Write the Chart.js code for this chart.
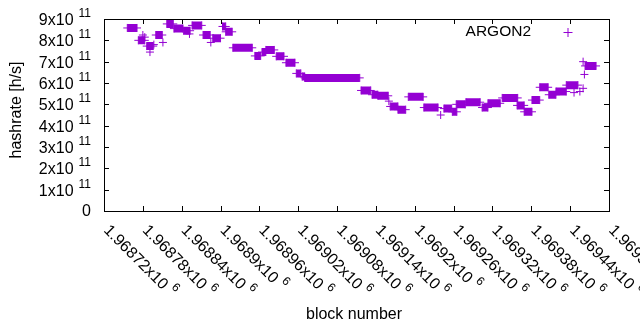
<!DOCTYPE html>
<html>
<head>
<meta charset="utf-8">
<script src="https://cdn.jsdelivr.net/npm/chart.js@4.4.0/dist/chart.umd.min.js"></script>
<style>
  html, body { margin: 0; padding: 0; background: #fff; }
  #wrap { width: 640px; height: 330px; position: relative; }
</style>
</head>
<body>
<div id="wrap"><canvas id="chart"></canvas></div>
<script>
// runs of blocks that share the same hashrate estimate (value in units of 10^11 h/s)
const runStart = [1968756, 1968773, 1968780, 1968783, 1968786, 1968791, 1968797, 1968800, 1968811, 1968817,
                  1968828, 1968843, 1968852, 1968856, 1968873, 1968885, 1968888, 1968903, 1968908, 1968919,
                  1968953, 1968964, 1968970, 1968986, 1969001, 1969017, 1969026, 1969030, 1969117, 1969134,
                  1969143, 1969160, 1969162, 1969174, 1969190, 1969214, 1969240, 1969245, 1969258, 1969264,
                  1969279, 1969304, 1969313, 1969335, 1969358, 1969369, 1969381, 1969393, 1969407, 1969418,
                  1969434, 1969446, 1969455, 1969460, 1969460, 1969462, 1969463];
const runEnd   = [1968771, 1968783, 1968780, 1968783, 1968796, 1968791, 1968797, 1968810, 1968811, 1968827,
                  1968842, 1968853, 1968852, 1968871, 1968884, 1968885, 1968900, 1968908, 1968918, 1968949,
                  1968962, 1968970, 1968983, 1968998, 1969015, 1969024, 1969030, 1969115, 1969132, 1969143,
                  1969159, 1969160, 1969174, 1969186, 1969213, 1969236, 1969240, 1969257, 1969265, 1969278,
                  1969301, 1969313, 1969332, 1969359, 1969369, 1969381, 1969393, 1969406, 1969418, 1969434,
                  1969452, 1969446, 1969455, 1969460, 1969460, 1969462, 1969480];
const runRate  = [8.58, 8.0, 8.25, 8.15, 7.73, 7.45, 7.8, 8.25, 7.9, 8.77,
                  8.55, 8.45, 8.3, 8.7, 8.25, 7.9, 8.1, 8.65, 8.4, 7.65,
                  7.27, 7.45, 7.55, 7.25, 6.95, 6.45, 6.3, 6.24, 5.65, 5.45,
                  5.4, 5.15, 4.9, 4.75, 5.35, 4.85, 4.5, 4.8, 4.65, 5.0,
                  5.1, 4.85, 5.05, 5.3, 4.95, 4.65, 5.2, 5.8, 5.45, 5.6,
                  5.9, 5.55, 5.6, 5.75, 7.0, 6.4, 6.8];

const xTickValues = [1968720, 1968780, 1968840, 1968900, 1968960, 1969020, 1969080,
                     1969140, 1969200, 1969260, 1969320, 1969380, 1969440, 1969500];
const xTickLabels = ['1.96872', '1.96878', '1.96884', '1.9689', '1.96896', '1.96902', '1.96908',
                     '1.96914', '1.9692', '1.96926', '1.96932', '1.96938', '1.96944', '1.9695'];
const yTickValues = [0, 1e11, 2e11, 3e11, 4e11, 5e11, 6e11, 7e11, 8e11, 9e11];
const yTickLabels = ['0', '1', '2', '3', '4', '5', '6', '7', '8', '9'];

const PURPLE = '#9400d3';
const FONT = '"Liberation Sans", Arial, sans-serif';

// build points: each run is a pair of points joined by a thick line, runs split by gaps
const points = [];
runStart.forEach((s, i) => {
    const v = runRate[i] * 1e11;
    points.push({ x: s, y: v });
    if (runEnd[i] !== s) points.push({ x: runEnd[i], y: v });
    points.push({ x: runEnd[i], y: null });
});

// gnuplot-like frame, tick marks, labels and key
const gnuplotDecor = {
    id: 'gnuplotDecor',
    afterDraw(chart) {
        const ctx = chart.ctx;
        const a = chart.chartArea;
        const xs = chart.scales.x, ys = chart.scales.y;
        ctx.save();
        ctx.strokeStyle = '#000';
        ctx.lineWidth = 1;
        ctx.strokeRect(Math.round(a.left) + 0.5, Math.round(a.top) + 0.5,
                       Math.round(a.right - a.left), Math.round(a.bottom - a.top));
        ctx.beginPath();
        xTickValues.forEach(v => {
            const x = Math.round(xs.getPixelForValue(v)) + 0.5;
            ctx.moveTo(x, a.bottom); ctx.lineTo(x, a.bottom - 5);
            ctx.moveTo(x, a.top); ctx.lineTo(x, a.top + 5);
        });
        yTickValues.forEach(v => {
            const y = Math.round(ys.getPixelForValue(v)) + 0.5;
            ctx.moveTo(a.left, y); ctx.lineTo(a.left + 5, y);
            ctx.moveTo(a.right, y); ctx.lineTo(a.right - 5, y);
        });
        ctx.stroke();

        ctx.fillStyle = '#000';
        // y tick labels with superscript exponent
        yTickValues.forEach((v, i) => {
            const y = ys.getPixelForValue(v);
            const right = 91;
            if (v === 0) {
                ctx.font = '16px ' + FONT;
                ctx.textAlign = 'right';
                ctx.textBaseline = 'middle';
                ctx.fillText(yTickLabels[i], right, y + 1);
                return;
            }
            ctx.font = '12px ' + FONT;
            ctx.textAlign = 'right';
            ctx.textBaseline = 'alphabetic';
            const supW = ctx.measureText('11').width;
            ctx.fillText('11', right, y - 2);
            ctx.font = '16px ' + FONT;
            ctx.fillText(yTickLabels[i] + 'x10', right - supW - 5, y + 6);
        });

        // x tick labels rotated down-right
        xTickValues.forEach((v, i) => {
            const x = xs.getPixelForValue(v);
            ctx.save();
            ctx.translate(x + 2, a.bottom + 17);
            ctx.rotate(Math.PI / 4);
            ctx.textAlign = 'left';
            ctx.textBaseline = 'middle';
            ctx.font = '16px ' + FONT;
            const main = xTickLabels[i] + 'x10';
            ctx.fillText(main, 0, 0);
            const w = ctx.measureText(main + ' ').width;
            ctx.font = '12px ' + FONT;
            ctx.fillText('6', w, -7);
            ctx.restore();
        });

        // axis titles
        ctx.font = '16px ' + FONT;
        ctx.textAlign = 'center';
        ctx.textBaseline = 'middle';
        ctx.fillText('block number', 354, 315);
        ctx.save();
        ctx.translate(17, 110);
        ctx.rotate(-Math.PI / 2);
        ctx.fillText('hashrate [h/s]', 0, 0);
        ctx.restore();

        // key
        ctx.font = '15.5px ' + FONT;
        ctx.textAlign = 'right';
        ctx.fillText('ARGON2', 531, 32);
        ctx.strokeStyle = PURPLE;
        ctx.beginPath();
        ctx.moveTo(563.5, 32.5); ctx.lineTo(572.5, 32.5);
        ctx.moveTo(568, 28); ctx.lineTo(568, 37);
        ctx.stroke();
        ctx.restore();
    }
};

new Chart(document.getElementById('chart'), {
    type: 'scatter',
    data: {
        datasets: [{
            label: 'ARGON2',
            data: points,
            showLine: true,
            spanGaps: false,
            borderColor: PURPLE,
            backgroundColor: PURPLE,
            borderWidth: 8,
            borderCapStyle: 'butt',
            pointStyle: 'cross',
            pointRadius: 4,
            pointBorderWidth: 1,
            pointBorderColor: PURPLE
        }]
    },
    options: {
        responsive: true,
        maintainAspectRatio: false,
        animation: false,
        layout: { padding: { top: 19, right: 31, left: 0, bottom: 0 } },
        plugins: { legend: { display: false }, tooltip: { enabled: false } },
        scales: {
            x: {
                type: 'linear', min: 1968720, max: 1969500,
                ticks: { display: false, stepSize: 60 },
                grid: { display: false }, border: { display: false },
                afterFit: s => { s.height = 119; }
            },
            y: {
                min: 0, max: 9e11,
                ticks: { display: false, stepSize: 1e11 },
                grid: { display: false }, border: { display: false },
                afterFit: s => { s.width = 104; }
            }
        }
    },
    plugins: [gnuplotDecor]
});
</script>
</body>
</html>
